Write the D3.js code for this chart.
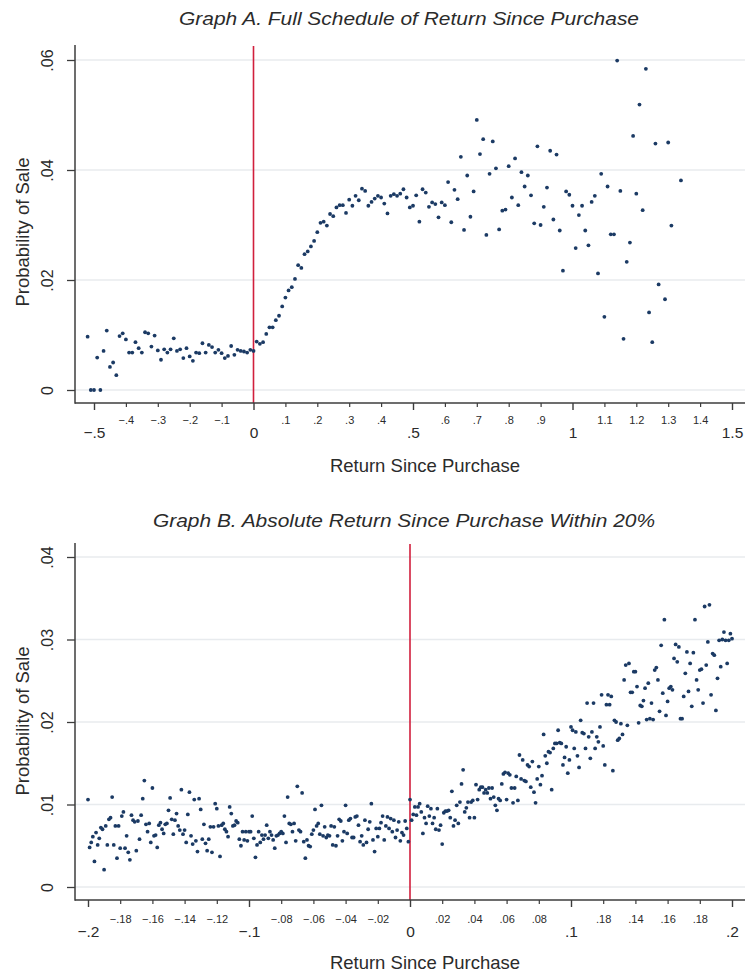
<!DOCTYPE html>
<html><head><meta charset="utf-8">
<script src="https://cdn.jsdelivr.net/npm/d3@7"></script>
<style>
body{margin:0;background:#fff}
svg{display:block}
text{font-family:"Liberation Sans",Arial,Helvetica,sans-serif;fill:#2b2b2b}
</style>
</head><body>
<svg id="chart" width="752" height="972"></svg>
<script>
// ---------- Graph A data ----------
const returnA = [
-.52,-.51,-.5,-.49,-.48,-.47,-.46,-.45,-.44,-.43,
-.42,-.41,-.4,-.39,-.38,-.37,-.36,-.35,-.34,-.33,
-.32,-.31,-.3,-.29,-.28,-.27,-.26,-.25,-.24,-.23,
-.22,-.21,-.2,-.19,-.18,-.17,-.16,-.15,-.14,-.13,
-.12,-.11,-.1,-.09,-.08,-.07,-.06,-.05,-.04,-.03,
-.02,-.01,0,.01,.02,.03,.04,.05,.06,.07,
.08,.09,.1,.11,.12,.13,.14,.15,.16,.17,
.18,.19,.2,.21,.22,.23,.24,.25,.26,.27,
.28,.29,.3,.31,.32,.33,.34,.35,.36,.37,
.38,.39,.4,.41,.42,.43,.44,.45,.46,.47,
.48,.49,.5,.51,.52,.53,.54,.55,.56,.57,
.58,.59,.6,.61,.62,.63,.64,.65,.66,.67,
.68,.69,.7,.71,.72,.73,.74,.75,.76,.77,
.78,.79,.8,.81,.82,.83,.84,.85,.86,.87,
.88,.89,.9,.91,.92,.93,.94,.95,.96,.97,
.98,.99,1,1.01,1.02,1.03,1.04,1.05,1.06,1.07,
1.08,1.09,1.1,1.11,1.12,1.13,1.14,1.15,1.16,1.17,
1.18,1.19,1.2,1.21,1.22,1.23,1.24,1.25,1.26,1.27,
1.29,1.3,1.31,1.34];
const probA = [
.0097,0,0,.0059,0,.0071,.0108,.0042,.0050,.0027,
.0098,.0103,.0092,.0068,.0068,.0087,.0076,.0068,.0105,.0103,
.0079,.0099,.0072,.0055,.0074,.0068,.0074,.0094,.0071,.0074,
.0058,.0076,.0061,.0053,.0068,.0067,.0085,.0068,.0082,.0078,
.0068,.0073,.0067,.0058,.0062,.0080,.0064,.0073,.0071,.0070,
.0068,.0073,.0071,.0088,.0084,.0087,.0102,.0114,.0114,.0127,
.0135,.0152,.0168,.0181,.0187,.0202,.0227,.0222,.0247,.0252,
.0261,.0271,.0287,.0304,.0306,.0299,.0320,.0316,.0332,.0336,
.0336,.0322,.0346,.0335,.0353,.0345,.0366,.0362,.0335,.0342,
.0348,.0353,.0350,.0339,.0321,.0353,.0356,.0353,.0357,.0365,
.0350,.0332,.0335,.0354,.0306,.0365,.0359,.0333,.0341,.0338,
.0314,.0341,.0336,.0378,.0305,.0364,.0347,.0424,.0291,.0390,
.0315,.0361,.0491,.0429,.0456,.0282,.0393,.0452,.0403,.0292,
.0326,.0328,.0407,.0350,.0421,.0336,.0396,.0370,.0390,.0354,
.0303,.0443,.0300,.0333,.0368,.0435,.0310,.0428,.0290,.0217,
.0361,.0355,.0335,.0258,.0318,.0335,.0290,.0263,.0342,.0353,
.0212,.0393,.0133,.0370,.0283,.0283,.0599,.0362,.0093,.0233,
.0268,.0462,.0357,.0519,.0327,.0584,.0141,.0087,.0448,.0192,
.0165,.0450,.0299,.0381];

// ---------- Graph B data ----------
const returnB = [
-.2,-.199,-.198,-.197,-.196,-.195,-.194,-.193,-.192,-.191,
-.19,-.189,-.188,-.187,-.186,-.185,-.184,-.183,-.182,-.181,
-.18,-.179,-.178,-.177,-.176,-.175,-.174,-.173,-.172,-.171,
-.17,-.169,-.168,-.167,-.166,-.165,-.164,-.163,-.162,-.161,
-.16,-.159,-.158,-.157,-.156,-.155,-.154,-.153,-.152,-.151,
-.15,-.149,-.148,-.147,-.146,-.145,-.144,-.143,-.142,-.141,
-.14,-.139,-.138,-.137,-.136,-.135,-.134,-.133,-.132,-.131,
-.13,-.129,-.128,-.127,-.126,-.125,-.124,-.123,-.122,-.121,
-.12,-.119,-.118,-.117,-.116,-.115,-.114,-.113,-.112,-.111,
-.11,-.109,-.108,-.107,-.106,-.105,-.104,-.103,-.102,-.101,
-.1,-.099,-.098,-.097,-.096,-.095,-.094,-.093,-.092,-.091,
-.09,-.089,-.088,-.087,-.086,-.085,-.084,-.083,-.082,-.081,
-.08,-.079,-.078,-.077,-.076,-.075,-.074,-.073,-.072,-.071,
-.07,-.069,-.068,-.067,-.066,-.065,-.064,-.063,-.062,-.061,
-.06,-.059,-.058,-.057,-.056,-.055,-.054,-.053,-.052,-.051,
-.05,-.049,-.048,-.047,-.046,-.045,-.044,-.043,-.042,-.041,
-.04,-.039,-.038,-.037,-.036,-.035,-.034,-.033,-.032,-.031,
-.03,-.029,-.028,-.027,-.026,-.025,-.024,-.023,-.022,-.021,
-.02,-.019,-.018,-.017,-.016,-.015,-.014,-.013,-.012,-.011,
-.01,-.009,-.008,-.007,-.006,-.005,-.004,-.003,-.002,-.001,
0,.001,.002,.003,.004,.005,.006,.007,.008,.009,
.01,.011,.012,.013,.014,.015,.016,.017,.018,.019,
.02,.021,.022,.023,.024,.025,.026,.027,.028,.029,
.03,.031,.032,.033,.034,.035,.036,.037,.038,.039,
.04,.041,.042,.043,.044,.045,.046,.047,.048,.049,
.05,.051,.052,.053,.054,.055,.056,.057,.058,.059,
.06,.061,.062,.063,.064,.065,.066,.067,.068,.069,
.07,.071,.072,.073,.074,.075,.076,.077,.078,.079,
.08,.081,.082,.083,.084,.085,.086,.087,.088,.089,
.09,.091,.092,.093,.094,.095,.096,.097,.098,.099,
.1,.101,.102,.103,.104,.105,.106,.107,.108,.109,
.11,.111,.112,.113,.114,.115,.116,.117,.118,.119,
.12,.121,.122,.123,.124,.125,.126,.127,.128,.129,
.13,.131,.132,.133,.134,.135,.136,.137,.138,.139,
.14,.141,.142,.143,.144,.145,.146,.147,.148,.149,
.15,.151,.152,.153,.154,.155,.156,.157,.158,.159,
.16,.161,.162,.163,.164,.165,.166,.167,.168,.169,
.17,.171,.172,.173,.174,.175,.176,.177,.178,.179,
.18,.181,.182,.183,.184,.185,.186,.187,.188,.189,
.19,.191,.192,.193,.194,.195,.196,.197,.198,.199,
.2];
const probB = [
.0106,.0048,.0054,.0061,.0031,.0066,.0051,.0059,.0072,.0070,
.0021,.0074,.0051,.0082,.0084,.0109,.0051,.0074,.0035,.0074,
.0047,.0086,.0091,.0047,.0062,.0042,.0033,.0087,.0081,.0079,
.0044,.0080,.0058,.0087,.0107,.0129,.0076,.0067,.0077,.0054,
.0120,.0062,.0063,.0048,.0075,.0078,.0070,.0065,.0076,.0077,
.0093,.0108,.0082,.0064,.0081,.0089,.0074,.0069,.0118,.0064,
.0069,.0054,.0088,.0115,.0062,.0052,.0106,.0056,.0043,.0107,
.0094,.0058,.0076,.0053,.0044,.0058,.0073,.0042,.0073,.0101,
.0095,.0074,.0037,.0075,.0077,.0070,.0067,.0061,.0097,.0089,
.0074,.0075,.0080,.0078,.0058,
.0050,.0067,.0057,.0067,.0056,.0067,.0067,.0086,.0059,.0036,
.0051,.0067,.0054,.0063,.0058,.0063,.0075,.0059,.0067,.0063,
.0057,.0047,.0062,.0063,.0065,.0067,.0065,.0086,.0054,.0109,
.0077,.0076,.0067,.0077,.0056,.0122,.0069,.0067,.0114,.0055,
.0035,.0057,.0050,.0049,.0064,.0069,.0094,.0074,.0077,.0064,
.0099,.0062,.0073,.0060,.0063,.0062,.0074,.0051,.0073,.0050,
.0062,.0082,.0080,.0056,.0067,.0099,.0065,.0081,.0083,.0060,
.0060,.0085,.0086,.0075,.0055,.0062,.0051,.0081,.0054,.0070,
.0079,.0101,.0057,.0043,.0071,.0061,.0071,.0078,.0086,.0057,
.0074,.0085,.0071,.0083,.0067,.0081,.0060,.0069,.0079,.0056,
.0066,.0063,.0080,.0071,.0055,
.0106,.0081,.0088,.0097,.0087,.0097,.0101,.0091,.0065,.0084,
.0077,.0098,.0086,.0095,.0077,.0084,.0070,.0095,.0069,.0075,
.0052,.0090,.0092,.0092,.0093,.0084,.0116,.0074,.0081,.0099,
.0077,.0103,.0125,.0142,.0091,.0096,.0103,.0084,.0103,.0105,
.0084,.0124,.0106,.0118,.0121,.0121,.0114,.0118,.0114,.0120,
.0107,.0120,.0109,.0099,.0093,.0107,.0105,.0125,.0137,.0139,
.0106,.0138,.0136,.0120,.0102,.0120,.0134,.0105,.0160,.0131,
.0154,.0129,.0128,.0148,.0146,.0121,.0152,.0115,.0102,.0131,
.0146,.0124,.0135,.0185,.0159,.0150,.0164,.0163,.0118,.0168,
.0174,.0174,.0190,.0175,.0174,.0148,.0157,.0170,.0138,.0154,
.0194,.0190,.0168,.0188,.0159,.0145,.0202,.0187,.0186,.0168,
.0223,.0182,.0156,.0188,.0223,.0168,.0182,.0176,.0194,.0233,
.0171,.0148,.0221,.0233,.0221,.0231,.0141,.0202,.0200,.0178,
.0180,.0198,.0185,.0251,.0269,.0196,.0271,.0236,.0236,.0261,
.0261,.0243,.0199,.0220,.0219,.0226,.0241,.0203,.0247,.0204,
.0223,.0203,.0263,.0266,.0251,.0213,.0293,.0235,.0324,.0208,
.0225,.0241,.0243,.0239,.0277,.0294,.0273,.0291,.0204,.0204,
.0231,.0259,.0285,.0237,.0271,.0219,.0284,.0324,.0251,.0239,
.0263,.0264,.0223,.0340,.0269,.0297,.0342,.0233,.0283,.0281,
.0214,.0253,.0299,.0267,.0300,.0309,.0299,.0271,.0299,.0307,
.0301];

// ---------- ticks & labels ----------
const yTicksA = [0, .02, .04, .06];
const yLabelsA = ["0", ".02", ".04", ".06"];
const xMajorA = [-.5, 0, .5, 1, 1.5];
const xMajorLabelsA = ["\u2212.5", "0", ".5", "1", "1.5"];
const xMinorA = [-.4, -.3, -.2, -.1, .1, .2, .3, .4, .6, .7, .8, .9, 1.1, 1.2, 1.3, 1.4];
const xMinorLabelsA = ["\u2212.4","\u2212.3","\u2212.2","\u2212.1",".1",".2",".3",".4",".6",".7",".8",".9","1.1","1.2","1.3","1.4"];

const yTicksB = [0, .01, .02, .03, .04];
const yLabelsB = ["0", ".01", ".02", ".03", ".04"];
const xMajorB = [-.2, -.1, 0, .1, .2];
const xMajorLabelsB = ["\u2212.2", "\u2212.1", "0", ".1", ".2"];
const xMinorB = [-.18, -.16, -.14, -.12, -.08, -.06, -.04, -.02, .02, .04, .06, .08, .12, .14, .16, .18];
const xMinorLabelsB = ["\u2212.18","\u2212.16","\u2212.14","\u2212.12","\u2212.08","\u2212.06","\u2212.04","\u2212.02",".02",".04",".06",".08",".18",".14",".16",".18"];

const titleA = "Graph A. Full Schedule of Return Since Purchase";
const titleB = "Graph B. Absolute Return Since Purchase Within 20%";
const xTitle = "Return Since Purchase";
const yTitle = "Probability of Sale";

// ---------- drawing ----------
const svg = d3.select("#chart");
const DOT = "#1b3a64", RED = "#d11f3d", GRID = "#e8ebee", AX = "#3c3c3c";
const LEFT = 75, RIGHT = 745;

function panel(o) {
  const g = svg.append("g");
  const x = d3.scaleLinear().domain(o.xDomain).range(o.xRange);
  const y = d3.scaleLinear().domain(o.yDomain).range(o.yRange);

  // gridlines
  g.append("g").selectAll("line").data(o.yTicks).join("line")
    .attr("x1", LEFT).attr("x2", RIGHT)
    .attr("y1", d => y(d)).attr("y2", d => y(d))
    .attr("stroke", GRID).attr("stroke-width", 1.6);

  // zero reference line
  g.append("line")
    .attr("x1", x(0)).attr("x2", x(0))
    .attr("y1", o.top + 1).attr("y2", o.bottom)
    .attr("stroke", RED).attr("stroke-width", 1.6);

  // points
  g.append("g").selectAll("circle").data(o.xs.map((v, i) => [v, o.ys[i]])).join("circle")
    .attr("cx", d => x(d[0])).attr("cy", d => y(d[1]))
    .attr("r", 1.9).attr("fill", DOT);

  // y axis
  const ya = g.append("g").attr("transform", `translate(${LEFT},0)`)
    .call(d3.axisLeft(y).tickValues(o.yTicks).tickSize(8).tickFormat((d, i) => o.yLabels[i]));
  ya.select(".domain").remove();
  ya.attr("color", AX);
  ya.selectAll(".tick line").attr("stroke-width", 1.3);
  ya.selectAll(".tick text")
    .attr("x", 0).attr("dy", 0)
    .attr("transform", "translate(-22,0) rotate(-90)")
    .attr("text-anchor", "middle")
    .attr("font-size", 16).attr("fill", "#2b2b2b");

  // x axis major
  const xa = g.append("g").attr("transform", `translate(0,${o.bottom})`)
    .call(d3.axisBottom(x).tickValues(o.xMajor).tickSize(7).tickPadding(o.majorPad)
      .tickFormat((d, i) => o.xMajorLabels[i]));
  xa.select(".domain").remove();
  xa.attr("color", AX);
  xa.selectAll(".tick line").attr("stroke-width", 1.4);
  xa.selectAll(".tick text").attr("font-size", 15.5).attr("fill", "#2b2b2b");

  // x axis minor
  const xm = g.append("g").attr("transform", `translate(0,${o.bottom})`)
    .call(d3.axisBottom(x).tickValues(o.xMinor).tickSize(4).tickPadding(o.minorPad)
      .tickFormat((d, i) => o.xMinorLabels[i]));
  xm.select(".domain").remove();
  xm.attr("color", AX);
  xm.selectAll(".tick line").attr("stroke-width", 1.2);
  xm.selectAll(".tick text").attr("font-size", 11).attr("fill", "#2b2b2b");

  // axis lines
  g.append("line").attr("x1", LEFT).attr("x2", LEFT).attr("y1", o.top).attr("y2", o.bottom + 0.7)
    .attr("stroke", AX).attr("stroke-width", 1.5);
  g.append("line").attr("x1", LEFT).attr("x2", RIGHT).attr("y1", o.bottom).attr("y2", o.bottom)
    .attr("stroke", AX).attr("stroke-width", 1.5);

  // titles
  g.append("text").attr("x", o.titleX).attr("y", o.titleY)
    .attr("text-anchor", "middle").attr("font-size", 17.5).attr("font-style", "italic")
    .attr("textLength", o.titleLen).attr("lengthAdjust", "spacingAndGlyphs")
    .text(o.title);
  g.append("text").attr("x", 425).attr("y", o.bottom + 69)
    .attr("text-anchor", "middle").attr("font-size", 18.5).text(xTitle);
  g.append("text").attr("transform", `translate(29,${o.yTitleY}) rotate(-90)`)
    .attr("text-anchor", "middle").attr("font-size", 18.5).text(yTitle);
}

panel({
  xs: returnA, ys: probA,
  xDomain: [-.5, 1.5], xRange: [94, 732],
  yDomain: [0, .06], yRange: [390, 60],
  top: 45, bottom: 403,
  yTicks: yTicksA, yLabels: yLabelsA,
  xMajor: xMajorA, xMajorLabels: xMajorLabelsA, majorPad: 16.8,
  xMinor: xMinorA, xMinorLabels: xMinorLabelsA, minorPad: 8.7,
  title: titleA, titleX: 409, titleY: 25, titleLen: 460,
  yTitleY: 232
});

panel({
  xs: returnB, ys: probB,
  xDomain: [-.2, .2], xRange: [88, 732],
  yDomain: [0, .04], yRange: [887, 557],
  top: 543, bottom: 900,
  yTicks: yTicksB, yLabels: yLabelsB,
  xMajor: xMajorB, xMajorLabels: xMajorLabelsB, majorPad: 19.1,
  xMinor: xMinorB, xMinorLabels: xMinorLabelsB, minorPad: 11.2,
  title: titleB, titleX: 404, titleY: 527, titleLen: 502,
  yTitleY: 721
});
</script>
</body></html>
